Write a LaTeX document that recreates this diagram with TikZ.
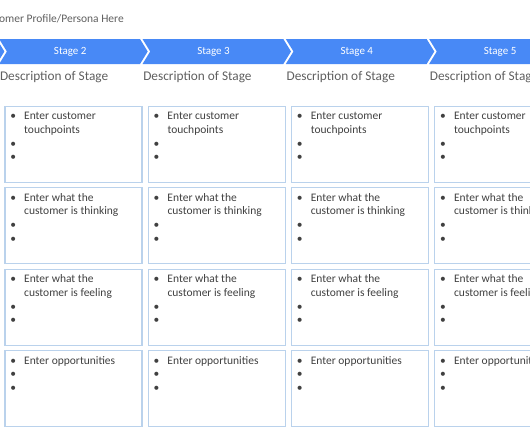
\documentclass[tikz,border=0pt]{standalone}
\usepackage{fontspec}
\setmainfont{Carlito}
\usetikzlibrary{calc}

\definecolor{stageblue}{RGB}{72,137,246}
\definecolor{cellline}{RGB}{186,210,236}
\definecolor{greytext}{RGB}{95,95,95}
\definecolor{celltext}{RGB}{64,64,64}

\tikzset{
  stagelabel/.style={text=white,font=\fontsize{11}{13}\selectfont,inner sep=0pt},
  desc/.style={anchor=west,text=greytext,font=\fontsize{13.3}{16}\selectfont,inner sep=0pt},
  cell/.style={draw=cellline,line width=1.2pt,minimum width=137pt,minimum height=76pt,inner sep=0pt,anchor=north west},
  celltxt/.style={anchor=base west,text=celltext,font=\fontsize{11.5}{13.7}\selectfont,inner sep=0pt}
}

\begin{document}
\begin{tikzpicture}[x=1pt,y=-1pt]
            % Define the pitch and sizes of the grid
            \def\pitch{143.3}  % distance between columns
            \def\rowpitch{81.5}  % distance between rows
            \def\top{39}  % top of the chevrons
            \def\bot{64}  % bottom of the chevrons

            \useasboundingbox (0,0) rectangle (530,442);
            \clip (0,0) rectangle (530,442);

            % Draw profile line
            \node[anchor=east,text=greytext,font=\fontsize{11.5}{14}\selectfont,inner sep=0pt] (profile) at (124,19) {Customer Profile/Persona Here};

            % Draw the stage chevrons
            \foreach \i in {1,...,5} {
                \pgfmathsetmacro\L{-0.8+(\i-2)*\pitch}
                \fill[stageblue] (\L,\top) -- ({\L+140.8},\top) -- ({\L+148.5},51.5)
                    -- ({\L+140.8},\bot) -- (\L,\bot) -- ({\L+7.7},51.5) -- cycle;
            }
            \foreach \i in {2,...,5} {
                \pgfmathsetmacro\L{-0.8+(\i-2)*\pitch}
                \node[stagelabel] (stage\i) at ({\L+71},51.5) {Stage \i};
                \node[desc] (desc\i) at ({\L+0.6},77) {Description of Stage};
            }

            % Draw the cells with their bullets
            \foreach \r/\txt in {0/{Enter customer\\&touchpoints},
                                 1/{Enter what the\\&customer is thinking},
                                 2/{Enter what the\\&customer is feeling},
                                 3/{Enter opportunities}} {
                \foreach \c in {0,...,3} {
                    \node[cell] (cell-\r-\c) at ({4.3+\c*\pitch},{105.5+\r*\rowpitch}) {};
                    \node[celltxt] (txt-\r-\c) at ($(cell-\r-\c.north west)+(5.8,14.2)$)
                        {\begin{tabular}[t]{@{}p{13.9pt}@{}l@{}}\textbullet&\txt\\\textbullet&\\\textbullet&\end{tabular}};
                }
            }
\end{tikzpicture}
\end{document}
